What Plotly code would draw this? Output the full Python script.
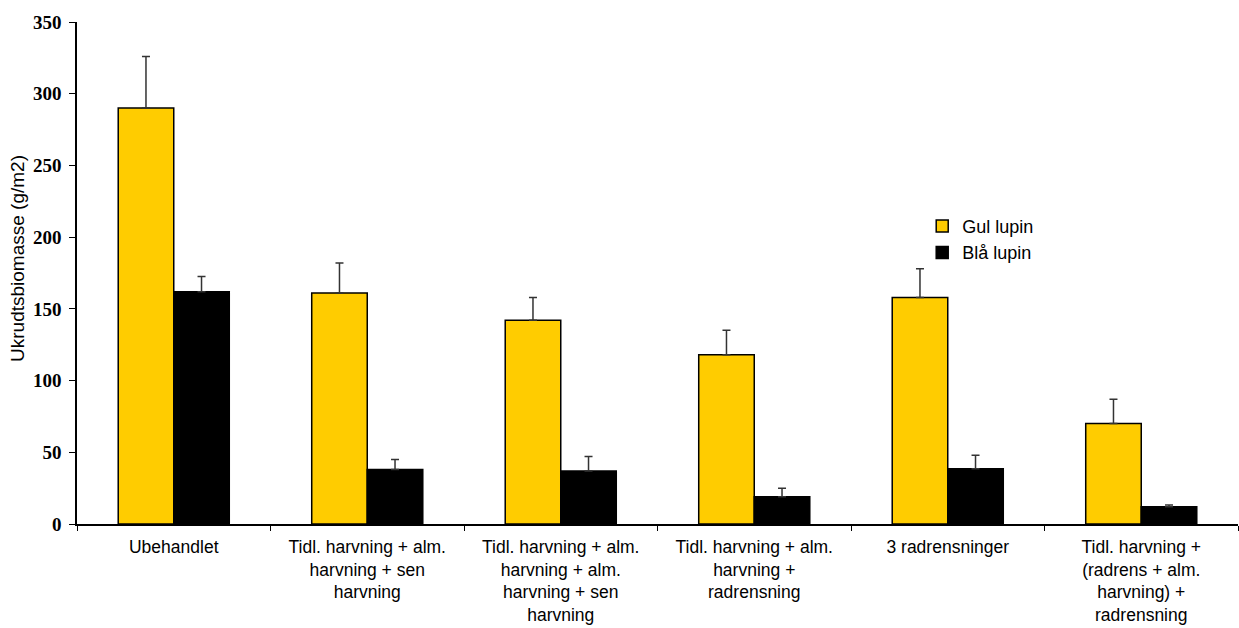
import plotly.graph_objects as go

# Treatments (x categories), with manual line breaks as printed under the axis
categories = [
    "Ubehandlet",
    "Tidl. harvning + alm.<br>harvning + sen<br>harvning",
    "Tidl. harvning + alm.<br>harvning + alm.<br>harvning + sen<br>harvning",
    "Tidl. harvning + alm.<br>harvning +<br>radrensning",
    "3 radrensninger",
    "Tidl. harvning +<br>(radrens + alm.<br>harvning) +<br>radrensning",
]

# Weed biomass (g/m2) and upper error (standard error)
gul_lupin = [290, 161, 142, 118, 158, 70]
gul_lupin_err = [36, 21, 16, 17, 20, 17]
blaa_lupin = [162, 38, 37, 19, 38.5, 12]
blaa_lupin_err = [10.5, 7, 10, 6, 9.5, 1.2]

y_ticks = [0, 50, 100, 150, 200, 250, 300, 350]

err_style = dict(type="data", symmetric=False, color="#333333",
                 thickness=1.5, width=4)

fig = go.Figure()
fig.add_trace(go.Bar(
    name="Gul lupin", x=categories, y=gul_lupin,
    marker=dict(color="#FFCC00", line=dict(color="#000000", width=1.5)),
    error_y=dict(array=gul_lupin_err, arrayminus=[0] * len(gul_lupin), **err_style),
))
fig.add_trace(go.Bar(
    name="Blå lupin", x=categories, y=blaa_lupin,
    marker=dict(color="#000000", line=dict(color="#000000", width=1.5)),
    error_y=dict(array=blaa_lupin_err, arrayminus=[0] * len(blaa_lupin), **err_style),
))

fig.update_layout(
    width=1239, height=628,
    margin=dict(l=77, r=1, t=22, b=104),
    paper_bgcolor="white", plot_bgcolor="white",
    barmode="group", bargap=0.426, bargroupgap=0,
    font=dict(family="Liberation Sans, Arial", size=18, color="#000000"),
    legend=dict(
        x=0.728, y=0.567, xanchor="left", yanchor="middle",
        font=dict(family="Liberation Sans, Arial", size=18, color="#000000"),
        bgcolor="rgba(0,0,0,0)", tracegroupgap=0,
    ),
    showlegend=True,
    annotations=[dict(
        text="Ukrudtsbiomasse (g/m2)", textangle=-90,
        xref="paper", yref="paper", x=-0.0508, y=0.528,
        xanchor="center", yanchor="middle", showarrow=False,
        font=dict(family="Liberation Sans, Arial", size=19, color="#000000"),
    )],
)

fig.update_xaxes(
    showline=True, linecolor="#000000", linewidth=1.5,
    ticks="outside", tickson="boundaries", ticklen=5, tickcolor="#000000",
    showgrid=False, zeroline=False, automargin=False,
    tickfont=dict(family="Liberation Sans, Arial", size=17.5, color="#000000"),
    ticklabelstandoff=6,
)
fig.update_yaxes(
    range=[0, 350], tickvals=y_ticks,
    showline=True, linecolor="#000000", linewidth=1.5,
    ticks="outside", ticklen=6, tickcolor="#000000",
    showgrid=False, zeroline=False, automargin=False,
    tickfont=dict(family="Liberation Serif, Times New Roman", size=19,
                  color="#000000", weight="bold"),
    ticklabelstandoff=4,
)

fig.write_html("out.html")
